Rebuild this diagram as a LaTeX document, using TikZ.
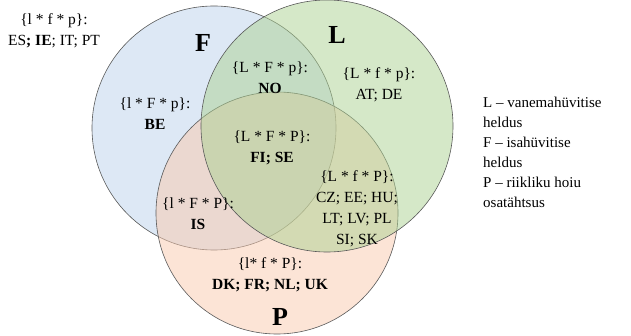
\documentclass[tikz,border=0pt]{standalone}
\usepackage{fontspec}
\setmainfont{Liberation Serif}
\begin{document}
\begin{tikzpicture}[x=1pt,y=-1pt,
  circ/.style={draw=black!65,line width=0.6pt,fill opacity=0.5},
  lbl/.style={font=\fontsize{15.5}{21}\selectfont,align=center,inner sep=0pt},
  big/.style={font=\fontsize{26}{26}\selectfont\bfseries,inner sep=0pt},
  legend/.style={font=\fontsize{15}{20}\selectfont,align=left,anchor=north west,inner sep=0pt}]
\definecolor{cF}{RGB}{187,209,235}
\definecolor{cL}{RGB}{171,209,145}
\definecolor{cP}{RGB}{249,201,173}
\useasboundingbox (0,0) rectangle (631,336);
\filldraw[circ,fill=cF] (214,128) circle (122);
\filldraw[circ,fill=cP] (277,213) circle (121);
\filldraw[circ,fill=cL] (327,126) circle (126);
\node[big] (F) at (203,43) {F};
\node[big] (L) at (337,35) {L};
\node[big] (P) at (280,317) {P};
\node[lbl] (lfp) at (54,31) {\{l * f * p\}:\\ES\textbf{; IE}; IT; PT};
\node[lbl] (LFp) at (270,78) {\{L * F * p\}:\\\textbf{NO}};
\node[lbl] (Lfp) at (379,85) {\{L * f * p\}:\\AT; DE};
\node[lbl] (lFp) at (155,114) {\{l * F * p\}:\\\textbf{BE}};
\node[lbl] (LFP) at (272,148) {\{L * F * P\}:\\\textbf{FI; SE}};
\node[lbl] (LfP) at (357,209) {\{L * f * P\}:\\CZ; EE; HU;\\LT; LV; PL\\SI; SK};
\node[lbl] (lFP) at (198,214) {\{l * F * P\}:\\\textbf{IS}};
\node[lbl] (lfP) at (270,275) {\{l* f * P\}:\\\textbf{DK; FR; NL; UK}};
\node[legend] (leg) at (483,97) {L -- vanemahüvitise\\heldus\\F -- isahüvitise\\heldus\\P -- riikliku hoiu\\osatähtsus};
\end{tikzpicture}
\end{document}
